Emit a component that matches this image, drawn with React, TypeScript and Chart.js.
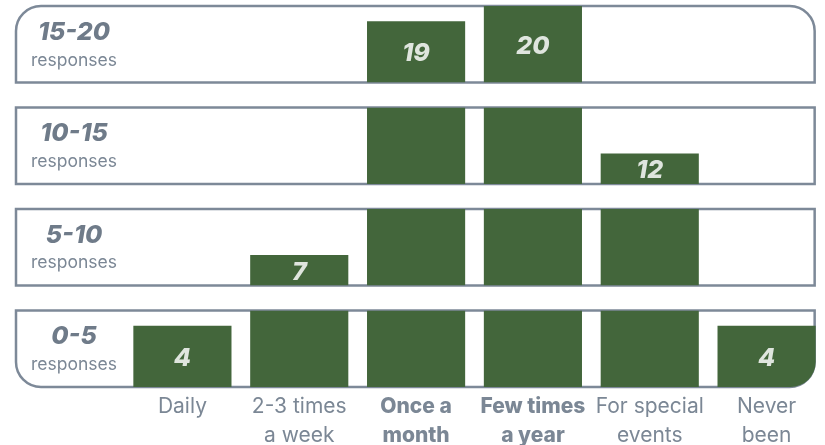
import React, { useEffect, useRef } from 'react';
import { Chart, registerables } from 'chart.js';

Chart.register(...registerables);

// ---- data ----
const categories: string[][] = [
  ['Daily'],
  ['2-3 times', 'a week'],
  ['Once a', 'month'],
  ['Few times', 'a year'],
  ['For special', 'events'],
  ['Never', 'been'],
];
const responses: number[] = [4, 7, 19, 20, 12, 4];
const highlighted: boolean[] = [false, false, true, true, false, false];
const bandLows: number[] = [0, 5, 10, 15];
const bandHighs: number[] = [5, 10, 15, 20];
const bandLabels: string[] = ['0-5', '5-10', '10-15', '15-20'];
const bandSubLabel = 'responses';

// ---- styles ----
const FONT = 'Inter, "Noto Sans", sans-serif';
const GREEN = '#43663b';
const OUTLINE = '#7d8998';
const TEXT = '#7b8795';
const RANGE_TEXT = '#6f7b89';
const VALUE_TEXT = '#dfe5de';
const CORNER = 25;

function roundedBand(ctx: CanvasRenderingContext2D, x0: number, y0: number, x1: number, y1: number, r: { tl: number; tr: number; br: number; bl: number }) {
  ctx.beginPath();
  ctx.moveTo(x0 + r.tl, y0);
  ctx.lineTo(x1 - r.tr, y0);
  if (r.tr) ctx.arcTo(x1, y0, x1, y0 + r.tr, r.tr); else ctx.lineTo(x1, y0);
  ctx.lineTo(x1, y1 - r.br);
  if (r.br) ctx.arcTo(x1, y1, x1 - r.br, y1, r.br); else ctx.lineTo(x1, y1);
  ctx.lineTo(x0 + r.bl, y1);
  if (r.bl) ctx.arcTo(x0, y1, x0, y1 - r.bl, r.bl); else ctx.lineTo(x0, y1);
  ctx.lineTo(x0, y0 + r.tl);
  if (r.tl) ctx.arcTo(x0, y0, x0 + r.tl, y0, r.tl); else ctx.lineTo(x0, y0);
  ctx.closePath();
}

const bandsPlugin = {
  id: 'bands',
  beforeDatasetsDraw(chart: any) {
    const ctx: CanvasRenderingContext2D = chart.ctx;
    const last = chart.getDatasetMeta(0).data[categories.length - 1];
    const right = last.x + last.width / 2 - 1;
    const left = 16;
    ctx.save();
    bandLows.forEach((_, b) => {
      const sc = chart.scales['band' + b];
      const r = {
        tl: b === 3 ? CORNER : 0,
        tr: b === 3 ? CORNER : 0,
        br: b === 0 ? CORNER : 0,
        bl: b === 0 ? CORNER : 0,
      };
      roundedBand(ctx, left, sc.top, right, sc.bottom, r);
      ctx.fillStyle = '#ffffff';
      ctx.fill();
      ctx.lineWidth = 2.5;
      ctx.strokeStyle = OUTLINE;
      ctx.stroke();
      const cy = (sc.top + sc.bottom) / 2;
      ctx.textAlign = 'center';
      ctx.textBaseline = 'middle';
      ctx.fillStyle = RANGE_TEXT;
      ctx.font = `italic 800 25px ${FONT}`;
      ctx.fillText(bandLabels[b], 74, cy - 12);
      ctx.fillStyle = TEXT;
      ctx.font = `400 17.5px ${FONT}`;
      ctx.fillText(bandSubLabel, 74, cy + 16);
    });
    ctx.restore();
  },
  afterDatasetsDraw(chart: any) {
    const ctx: CanvasRenderingContext2D = chart.ctx;
    ctx.save();
    ctx.textAlign = 'center';
    ctx.textBaseline = 'middle';
    ctx.fillStyle = VALUE_TEXT;
    ctx.font = `italic 800 25px ${FONT}`;
    responses.forEach((v, i) => {
      let b = 0;
      for (let k = 0; k < bandLows.length; k++) if (v > bandLows[k]) b = k;
      const el = chart.getDatasetMeta(b).data[i];
      if (!el) return;
      ctx.fillText(String(v), el.x, (el.y + el.base) / 2 + 2);
    });
    ctx.restore();
  },
};

export default function App() {
  const ref = useRef<HTMLCanvasElement>(null);

  useEffect(() => {
    if (!ref.current) return;
    Chart.defaults.font.family = FONT;

    const datasets = bandLows.map((lo, b) => ({
      label: bandLabels[b],
      data: responses.map((v) => (v > lo ? [lo, Math.min(v, bandHighs[b])] : null)),
      yAxisID: 'band' + b,
      backgroundColor: GREEN,
      borderWidth: 0,
      borderSkipped: false,
      grouped: false,
      barPercentage: 0.84,
      categoryPercentage: 1,
      borderRadius: (c: any) =>
        b === 0 && c.dataIndex === categories.length - 1
          ? { topLeft: 0, topRight: 0, bottomLeft: 0, bottomRight: CORNER }
          : 0,
    }));

    const bandScale = (b: number, weight: number) => ({
      type: 'linear',
      position: 'left',
      stack: 'bands',
      stackWeight: 77,
      weight,
      min: bandLows[b],
      max: bandHighs[b],
      display: false,
    });
    const gapScale = (weight: number) => ({
      type: 'linear',
      position: 'left',
      stack: 'bands',
      stackWeight: 25,
      weight,
      display: false,
    });

    const chart = new Chart(ref.current, {
      type: 'bar',
      data: { labels: categories as any, datasets: datasets as any },
      plugins: [bandsPlugin],
      options: {
        animation: false,
        responsive: true,
        maintainAspectRatio: false,
        layout: { padding: { left: 124, top: 6, right: 0, bottom: 0 } },
        plugins: { legend: { display: false }, tooltip: { enabled: false } },
        scales: {
          x: {
            type: 'category',
            offset: true,
            grid: { display: false, drawTicks: false },
            border: { display: false },
            ticks: {
              padding: 6,
              color: TEXT,
              autoSkip: false,
              maxRotation: 0,
              font: (c: any) => ({
                family: FONT,
                size: 21,
                weight: highlighted[c.index] ? '800' : '400',
                lineHeight: 1.35,
              }),
            },
            afterFit: (s: any) => {
              s.height = 58;
            },
          },
          band3: bandScale(3, 7),
          gap3: gapScale(6),
          band2: bandScale(2, 5),
          gap2: gapScale(4),
          band1: bandScale(1, 3),
          gap1: gapScale(2),
          band0: bandScale(0, 1),
        } as any,
      },
    });
    return () => chart.destroy();
  }, []);

  return (
    <div style={{ position: 'absolute', left: 0, top: 0, width: 825, height: 445 }}>
      <canvas ref={ref} />
    </div>
  );
}
